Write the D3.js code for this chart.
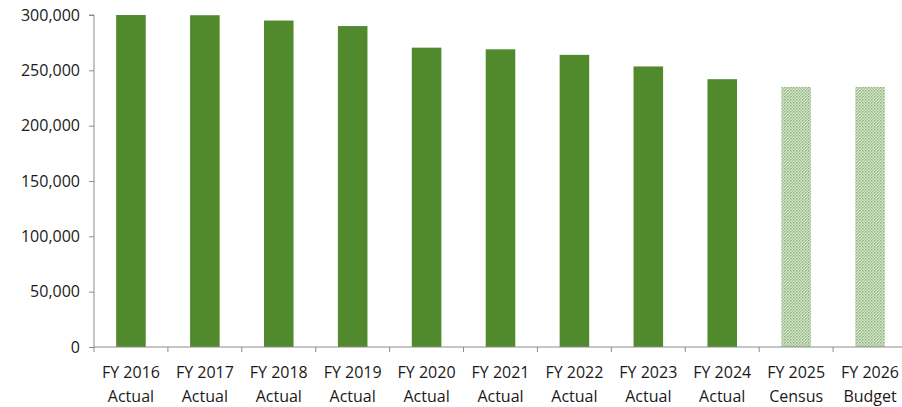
<!DOCTYPE html>
<html>
<head>
<meta charset="utf-8">
<script src="https://cdn.jsdelivr.net/npm/d3@7"></script>
<style>
  body { margin: 0; background: #fff; }
  text { font-family: "Open Sans", "Noto Sans", sans-serif; fill: #1a1a1a; }
</style>
</head>
<body>
<div id="chart"></div>
<script>
// Data
const years = ['FY 2016', 'FY 2017', 'FY 2018', 'FY 2019', 'FY 2020', 'FY 2021', 'FY 2022', 'FY 2023', 'FY 2024', 'FY 2025', 'FY 2026'];
const kinds = ['Actual', 'Actual', 'Actual', 'Actual', 'Actual', 'Actual', 'Actual', 'Actual', 'Actual', 'Census', 'Budget'];
const values = [300000, 299800, 295000, 290000, 270500, 269000, 264000, 253500, 242000, 235000, 235000];
const yTicks = [0, 50000, 100000, 150000, 200000, 250000, 300000];

const W = 902, H = 407;
const margin = { top: 15, right: -5, bottom: 60, left: 94 };
const width = W - margin.left - margin.right;
const height = H - margin.top - margin.bottom;

const svg = d3.select('#chart')
  .append('svg')
  .attr('width', W)
  .attr('height', H);

// dotted pattern for the estimate bars
const pat = svg.append('defs').append('pattern')
  .attr('id', 'dots')
  .attr('width', 3)
  .attr('height', 3)
  .attr('patternUnits', 'userSpaceOnUse');
pat.append('rect').attr('width', 3).attr('height', 3).attr('fill', '#d8e6cf');
pat.append('rect').attr('width', 1.5).attr('height', 1.5).attr('fill', '#8db27a');
pat.append('rect').attr('x', 1.5).attr('y', 1.5).attr('width', 1.5).attr('height', 1.5).attr('fill', '#a5c494');

const g = svg.append('g')
  .attr('transform', `translate(${margin.left},${margin.top})`);

const x = d3.scaleBand()
  .domain(years)
  .range([0, width])
  .paddingInner(0.6)
  .paddingOuter(0.3);

const y = d3.scaleLinear()
  .domain([0, 300000])
  .range([height, 0]);

// Bars
g.selectAll('.bar')
  .data(years)
  .enter()
  .append('rect')
  .attr('class', 'bar')
  .attr('x', d => x(d))
  .attr('width', x.bandwidth())
  .attr('y', (d, i) => y(values[i]))
  .attr('height', (d, i) => height - y(values[i]))
  .attr('fill', (d, i) => kinds[i] === 'Actual' ? '#518a2d' : 'url(#dots)');

// Y axis
const yAxis = g.append('g')
  .call(d3.axisLeft(y).tickValues(yTicks).tickSize(5).tickPadding(9).tickFormat(d3.format(',')));
yAxis.select('.domain').attr('stroke', '#8c8c8c').attr('d', `M-5,0H0V${height}`);
yAxis.selectAll('line').attr('stroke', '#8c8c8c');
yAxis.selectAll('text').style('font-size', '16px').attr('fill', '#1a1a1a');

// X axis
const xAxis = g.append('g')
  .attr('transform', `translate(0,${height})`)
  .call(d3.axisBottom(x).tickSize(0).tickFormat(''));
xAxis.select('.domain').attr('stroke', '#8c8c8c').attr('d', `M0,0H${width}`);

// category boundary ticks
xAxis.selectAll('.bound')
  .data(d3.range(years.length + 1))
  .enter()
  .append('line')
  .attr('class', 'bound')
  .attr('x1', i => i * x.step())
  .attr('x2', i => i * x.step())
  .attr('y1', 0)
  .attr('y2', 5)
  .attr('stroke', '#8c8c8c');

// two-line category labels
const lab = xAxis.selectAll('.lab')
  .data(years)
  .enter()
  .append('text')
  .attr('class', 'lab')
  .attr('text-anchor', 'middle')
  .style('font-size', '16px');
lab.append('tspan').attr('x', d => x(d) + x.bandwidth() / 2).attr('y', 31).text(d => d);
lab.append('tspan').attr('x', d => x(d) + x.bandwidth() / 2).attr('y', 55).text((d, i) => kinds[i]);
</script>
</body>
</html>
